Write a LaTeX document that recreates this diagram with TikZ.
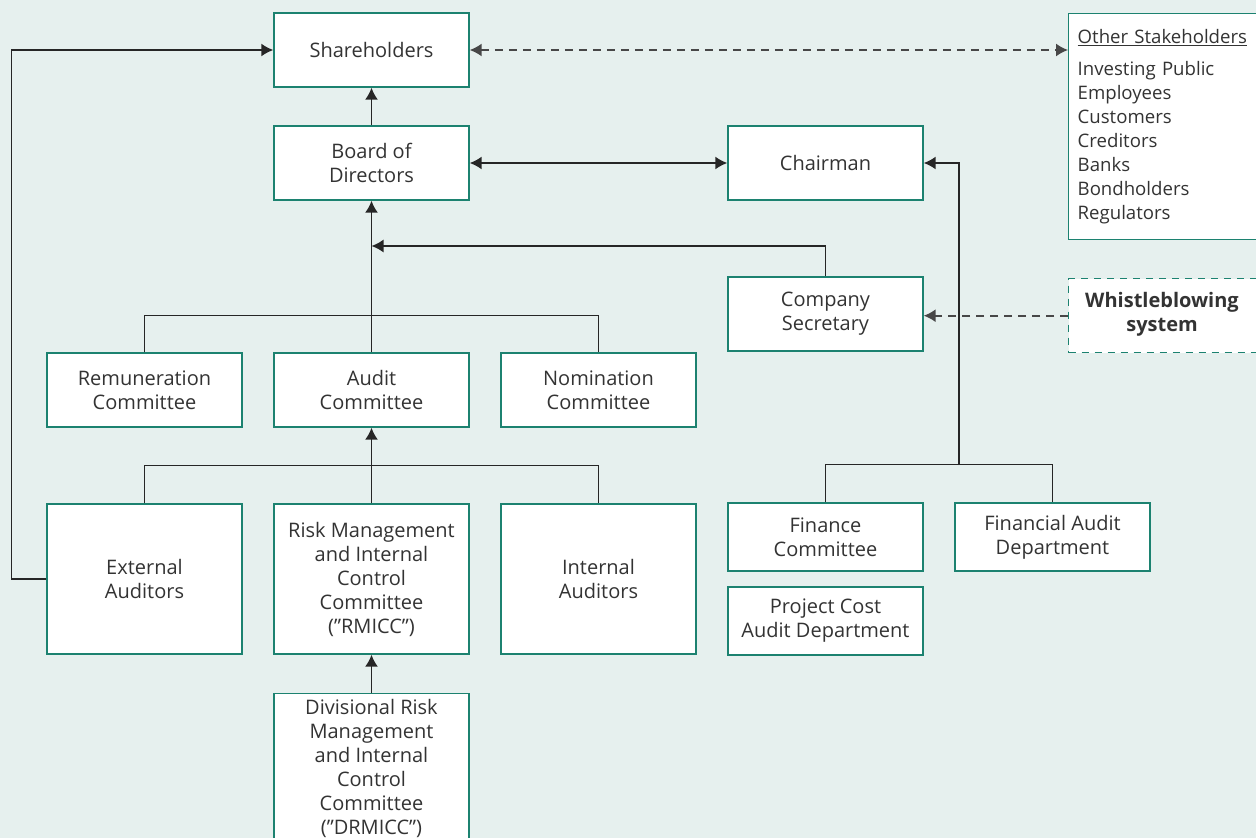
\documentclass[tikz,border=0pt]{standalone}
\usepackage{fontspec}
\setmainfont{Open Sans}
\usetikzlibrary{arrows.meta,calc}
\definecolor{bg}{HTML}{E6F0EE}
\definecolor{teal}{HTML}{1C8270}
\definecolor{ink}{HTML}{333333}
\definecolor{wire}{HTML}{262626}
\begin{document}
\begin{tikzpicture}[x=1pt,y=-1pt,
  box/.style={draw=teal,line width=1.4pt,fill=white,minimum width=195pt,minimum height=74pt,
    align=center,text=ink,inner sep=2pt,font=\fontsize{20}{24}\selectfont},
  tallbox/.style={box,minimum height=150pt},
  shortbox/.style={box,minimum height=68pt},
  wirestyle/.style={draw=wire,line width=1.6pt},
  arr/.style={wirestyle,-{Latex[length=12pt,width=13pt]}},
  darr/.style={wirestyle,{Latex[length=12pt,width=13pt]}-{Latex[length=12pt,width=13pt]}},
  dashline/.style={dash pattern=on 8pt off 6pt,draw=wire!85}
]
\useasboundingbox (0,0) rectangle (1256,838);
\fill[bg] (0,0) rectangle (1256,838);

% nodes
\node[box] (sh) at (371.5,50) {Shareholders};
\node[box] (bod) at (371.5,163) {Board of\\Directors};
\node[box] (chair) at (825.5,163) {Chairman};
\node[box] (sec) at (825.5,314) {Company\\Secretary};
\node[box] (rem) at (144.5,390) {Remuneration\\Committee};
\node[box] (aud) at (371.5,390) {Audit\\Committee};
\node[box] (nom) at (598.5,390) {Nomination\\Committee};
\node[tallbox] (ext) at (144.5,579) {External\\Auditors};
\node[tallbox] (rmicc) at (371.5,579) {Risk Management\\and Internal\\Control\\Committee\\(”RMICC”)};
\node[tallbox] (int) at (598.5,579) {Internal\\Auditors};
\node[tallbox,anchor=north] (drm) at (371.5,693) {Divisional Risk\\Management\\and Internal\\Control\\Committee\\(”DRMICC”)};
\node[shortbox] (fin) at (825.5,537) {Finance\\Committee};
\node[shortbox] (fad) at (1052.5,537) {Financial Audit\\Department};
\node[shortbox] (pca) at (825.5,621) {Project Cost\\Audit Department};

\node[box,anchor=north west,minimum width=200pt,minimum height=226pt,text width=182pt,
  inner xsep=9pt,align=left,font=\fontsize{18.6}{24}\selectfont] (stake) at (1068,13)
  {\underline{Other Stakeholders}\\[8pt]Investing Public\\Employees\\Customers\\Creditors\\Banks\\Bondholders\\Regulators};

\node[box,anchor=north west,minimum width=200pt,draw=teal,dash pattern=on 7pt off 6pt] (whistle) at (1068,278) {};
\node[text=ink,align=center,font=\fontsize{20}{24}\selectfont\bfseries] (whistletext) at (1162,314) {Whistleblowing\\system};

\coordinate (secj) at (371.5,246);
\coordinate (finj) at (959,465);

% connectors
\draw[arr] (bod) -- (sh);
\draw[arr] (ext.west) -- ++(-35,0) |- (sh.west);
\draw[darr,dashline] (sh.east) -- (sh.east -| stake.west);
\draw[darr] (bod) -- (chair);
\draw[arr] (aud) -- (bod);
\draw[wirestyle] (rem.north) -- ++(0,-37) -| (nom.north);
\draw[arr] (sec.north) |- (secj);
\draw[arr,dashline] (whistle.west) -- (whistle.west -| sec.east);
\draw[arr] (rmicc) -- (aud);
\draw[wirestyle] (ext.north) -- ++(0,-38) -| (int.north);
\draw[arr] (drm) -- (rmicc);
\draw[wirestyle] (fin.north) -- ++(0,-38) -| (fad.north);
\draw[arr] (finj) |- (chair.east);
\end{tikzpicture}
\end{document}
